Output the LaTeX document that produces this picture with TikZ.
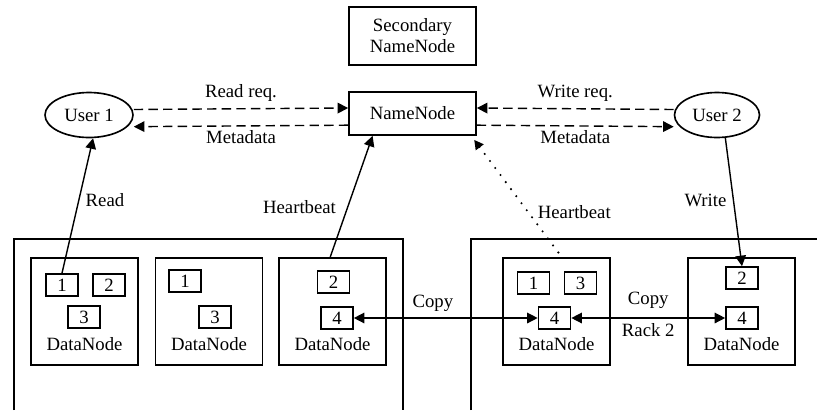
\documentclass[tikz,border=0pt]{standalone}
\usepackage{fontspec}
\setmainfont{Liberation Serif}
\usetikzlibrary{arrows.meta,shapes.geometric,calc}

\tikzset{
  rackline/.style={line width=1.4pt},
  master/.style={draw, line width=1.4pt, minimum width=3.81cm, align=center},
  user/.style={draw, ellipse, line width=1.4pt, minimum height=1.35cm, inner sep=0pt},
  datanode/.style={draw, line width=1.4pt, minimum width=3.21cm, minimum height=3.21cm},
  block/.style={draw, line width=1.4pt, minimum width=0.96cm, minimum height=0.66cm, inner sep=0pt},
  flow/.style={line width=1.2pt, -{Triangle[length=9pt,width=9pt]}},
  copyflow/.style={line width=1.2pt, {Triangle[length=9pt,width=9pt]}-{Triangle[length=9pt,width=9pt]}},
  req/.style={flow, dash pattern=on 8pt off 4.5pt},
  beat/.style={line width=2pt, line cap=round, dash pattern=on 0pt off 7.5pt,
    -{Triangle[length=8pt,width=8pt,line cap=butt,line join=miter]}}
}

\begin{document}
\begin{tikzpicture}[x=0.03cm,y=-0.03cm,font=\fontsize{16}{18}\selectfont]
  \useasboundingbox (0,0) rectangle (817,410);

  % racks
  \draw [rackline] (14,410) -- (14,239) -- (403,239) -- (403,410);
  \draw [rackline] (471,410) -- (471,239) -- (817,239);

  % master side
  \node [master, minimum height=1.74cm] (sec) at (412.5,36) {Secondary\\NameNode};
  \node [master, minimum height=1.29cm] (nn) at (412.5,113.5) {NameNode};
  \node [user, minimum width=2.64cm] (u1) at (89,115) {User 1};
  \node [user, minimum width=2.55cm] (u2) at (717,115) {User 2};

  % data nodes
  \node [datanode] (dn1) at (84.5,311.5) {};
  \node [datanode] (dn2) at (209,311.5) {};
  \node [datanode] (dn3) at (332.5,311.5) {};
  \node [datanode] (dn4) at (556.5,311.5) {};
  \node [datanode] (dn5) at (741.5,311.5) {};
  \node (t1) at (84.5,344) {DataNode};
  \node (t2) at (209,344) {DataNode};
  \node (t3) at (332.5,344) {DataNode};
  \node (t4) at (556.5,344) {DataNode};
  \node (t5) at (741.5,344) {DataNode};

  % blocks
  \node [block] (b11) at (62,285) {1};
  \node [block] (b12) at (109,285) {2};
  \node [block] (b13) at (84,317) {3};
  \node [block] (b21) at (185,281) {1};
  \node [block] (b23) at (215,317) {3};
  \node [block] (b32) at (333.5,282) {2};
  \node [block] (b34) at (337,318) {4};
  \node [block] (b41) at (533.5,283) {1};
  \node [block] (b43) at (580.5,283) {3};
  \node [block] (b44) at (554.5,318) {4};
  \node [block] (b52) at (742,278) {2};
  \node [block] (b54) at (742,318) {4};

  % requests
  \draw [req] ([yshift=0.165cm]u1.east) -- node[above=2pt] {Read req.} ([yshift=0.165cm]nn.west);
  \draw [req] ([yshift=-0.35cm]nn.west) -- node[below=0pt] {Metadata} ([yshift=-0.35cm]u1.east);
  \draw [req] ([yshift=0.165cm]u2.west) -- node[above=2pt] {Write req.} ([yshift=0.165cm]nn.east);
  \draw [req] ([yshift=-0.35cm]nn.east) -- node[below=0pt] {Metadata} ([yshift=-0.35cm]u2.west);

  % read, write, heartbeats
  \draw [flow] (b11.north) -- node[pos=.54,right=2pt] {Read} (u1.-80);
  \draw [flow] (u2.-70) -- node[pos=.485,left=2pt] {Write} (b52.north);
  \draw [flow] ([xshift=-0.07cm]dn3.north) -- node[pos=.41,left=6pt] {Heartbeat} ($(nn.south west)!.19!(nn.south east)$);
  \draw [beat, shorten <=5pt] ([xshift=0.16cm]dn4.north) -- node[pos=.385,right=4pt] {Heartbeat} ([shift={(-0.08cm,-0.12cm)}]nn.south east);

  % replication
  \draw [copyflow] (b34.east) -- node[above=2pt,pos=.43] {Copy} (b44.west);
  \draw [copyflow] (b44.east) -- node[above=4pt] {Copy} node[below=1pt] {Rack 2} (b54.west);
\end{tikzpicture}
\end{document}
